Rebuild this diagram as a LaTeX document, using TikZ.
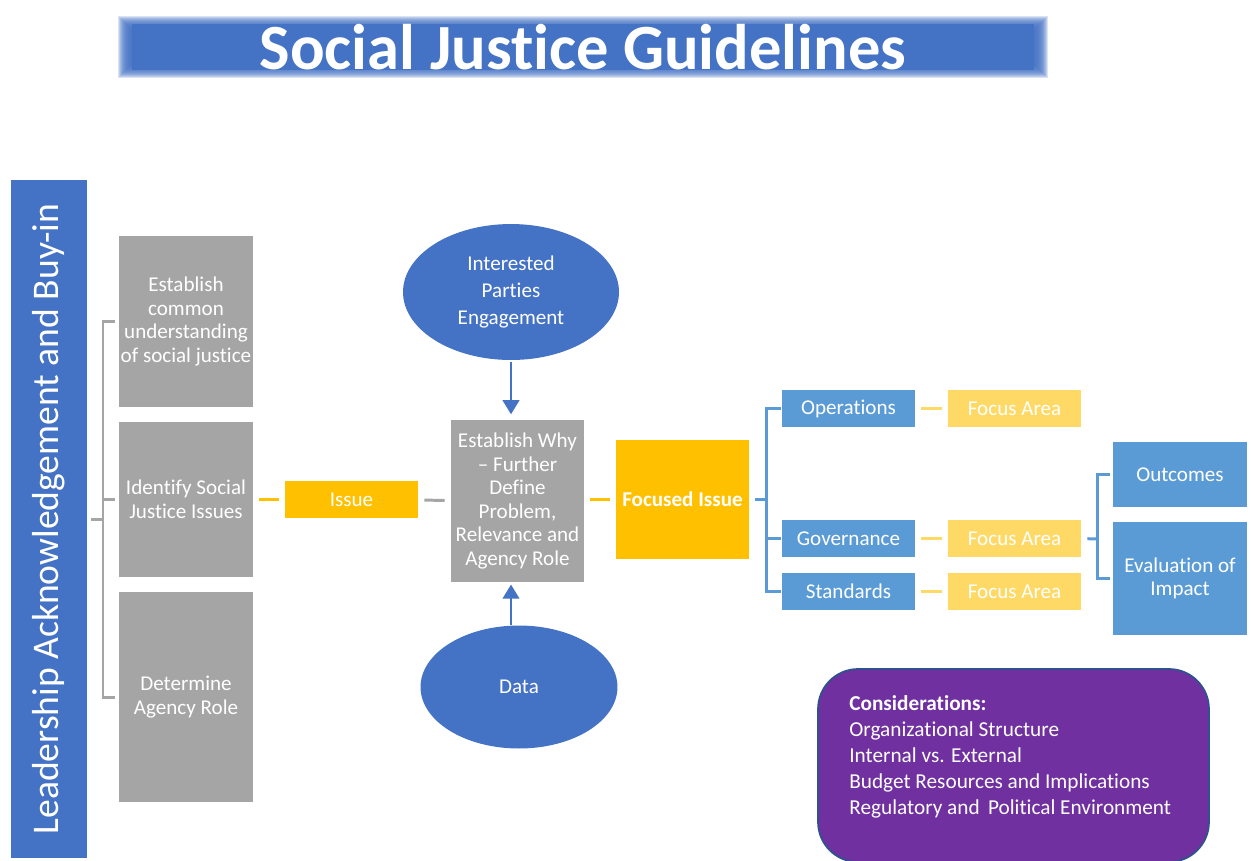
\documentclass[tikz,border=0pt]{standalone}
\usepackage{fontspec}
\setmainfont[Ligatures=NoCommon]{Carlito}
\usetikzlibrary{arrows.meta,shapes.geometric}
\definecolor{deepblue}{HTML}{4472C4}
\definecolor{boxgray}{HTML}{A5A5A5}
\definecolor{gold}{HTML}{FFC000}
\definecolor{skyblue}{HTML}{5B9BD5}
\definecolor{palegold}{HTML}{FFD966}
\definecolor{plum}{HTML}{7030A0}
\definecolor{plumedge}{HTML}{2F528F}
\tikzset{
  box/.style={rectangle,inner sep=1pt,text=white,align=center,font=\fontsize{12}{13.4}\selectfont},
  graybox/.style={box,fill=boxgray,minimum width=2.68cm},
  goldbox/.style={box,fill=gold,minimum width=2.66cm},
  bluebox/.style={box,fill=skyblue,minimum width=2.66cm},
  areabox/.style={box,fill=palegold,minimum width=2.66cm,minimum height=0.74cm},
  oval/.style={ellipse,fill=deepblue,text=white,align=center,inner sep=0pt,font=\fontsize{12}{15.2}\selectfont},
  grayline/.style={draw=boxgray,line width=1.7pt},
  goldline/.style={draw=gold,line width=1.5pt},
  paleline/.style={draw=palegold,line width=1.5pt},
  blueline/.style={draw=skyblue,line width=1.7pt},
  feed/.style={draw=deepblue,line width=1pt,-{Triangle[length=8pt,width=9.5pt]}},
  gap/.style={shorten <=3.4pt,shorten >=3.4pt}
}
\begin{document}
\begin{tikzpicture}[x=0.02cm,y=-0.02cm]
\useasboundingbox (0,0) rectangle (1251,860);
% title bar with a soft edge
\foreach \g in {-6,...,8}
  \fill[deepblue,opacity=0.2] (126-\g,24-\g) rectangle (1040+\g,70+\g);
\node[fill=deepblue,text=white,minimum width=18.04cm,minimum height=0.68cm,inner sep=0pt,font=\fontsize{36.7}{40}\bfseries] (title) at (583,47) {Social Justice Guidelines};
\node[fill=deepblue,text=white,rotate=90,minimum width=13.56cm,minimum height=1.52cm,font=\fontsize{21.4}{24}\selectfont] (lead) at (49,519) {Leadership Acknowledgement and Buy-in};
% first column
\node[graybox,minimum height=3.42cm] (common) at (186,321.5) {Establish\\common\\understanding\\of social justice};
\node[graybox,minimum height=3.10cm] (identify) at (186,499.5) {Identify Social\\Justice Issues};
\node[graybox,minimum height=4.20cm] (agency) at (186,697) {Determine\\Agency Role};
\coordinate (lb) at (103,519);
\draw[grayline,shorten <=2.3pt] (lead.south) -- (lb);
\draw[grayline,shorten <=2.3pt,shorten >=2.3pt] (common.west) -| (lb) |- (agency.west);
\draw[grayline,shorten >=2.3pt] (lb |- identify.west) -- (identify.west);
% issue and the why box
\node[goldbox,minimum height=0.74cm] (issue) at (351.5,499.5) {Issue};
\node[graybox,minimum width=2.66cm,minimum height=3.26cm] (why) at (517.5,501) {Establish Why\\– Further\\Define\\Problem,\\Relevance and\\Agency Role};
\node[oval,minimum width=4.32cm,minimum height=2.72cm] (parties) at (511,292) {Interested\\Parties\\Engagement};
\node[oval,minimum width=3.94cm,minimum height=2.46cm] (data) at (519,687) {Data};
\draw[goldline,gap] (identify) -- (issue);
\draw[grayline,gap] (issue) -- (why);
\draw[feed,shorten <=1pt,shorten >=2.8pt] (parties.south) -- (parties.south |- why.north);
\draw[feed,shorten >=1pt] (data.north -| parties.south) -- (why.south -| parties.south);
% focused issue and its branches
\node[goldbox,minimum height=2.38cm,font=\fontsize{12}{13.4}\bfseries] (focused) at (682.5,499.5) {Focused Issue};
\draw[goldline,gap] (why.east |- focused.west) -- (focused.west);
\node[bluebox,minimum height=0.74cm] (ops) at (848.5,408.5) {Operations};
\node[bluebox,minimum height=0.74cm] (gov) at (848.5,538.5) {Governance};
\node[bluebox,minimum height=0.74cm] (std) at (848.5,591.5) {Standards};
\node[areabox] (area1) at (1014.5,408.5) {Focus Area};
\node[areabox] (area2) at (1014.5,538.5) {Focus Area};
\node[areabox] (area3) at (1014.5,591.5) {Focus Area};
\draw[paleline,gap] (ops) -- (area1);
\draw[paleline,gap] (gov) -- (area2);
\draw[paleline,gap] (std) -- (area3);
\coordinate (rb) at (766,499.5);
\draw[blueline,shorten <=3.4pt] (focused.east) -- (rb);
\draw[blueline,shorten <=0.6pt,shorten >=0.6pt] (ops.west) -| (rb) |- (std.west);
\draw[blueline,shorten >=0.6pt] (rb |- gov.west) -- (gov.west);
% results of the governance area
\node[bluebox,minimum width=2.68cm,minimum height=1.30cm] (outcomes) at (1180,474.5) {Outcomes};
\node[bluebox,minimum width=2.68cm,minimum height=2.26cm] (impact) at (1180,578.5) {Evaluation of\\Impact};
\coordinate (ob) at (1097,539);
\draw[blueline,shorten <=3.4pt] (area2.east) -- (ob);
\draw[blueline,shorten <=1.7pt,shorten >=1.7pt] (outcomes.west) -| (ob) |- (impact.west);
% considerations
\node[fill=plum,draw=plumedge,line width=1pt,rounded corners=0.8cm,minimum width=7.82cm,minimum height=3.86cm] (consider) at (1013.5,765.5) {};
\node[anchor=north west,inner sep=0pt,text=white,align=left,font=\fontsize{12.1}{14.8}\selectfont] (considertext) at (849,695) {\textbf{Considerations:}\\Organizational Structure\\Internal vs. External\\Budget Resources and Implications\\Regulatory and \,Political Environment};
\end{tikzpicture}
\end{document}
